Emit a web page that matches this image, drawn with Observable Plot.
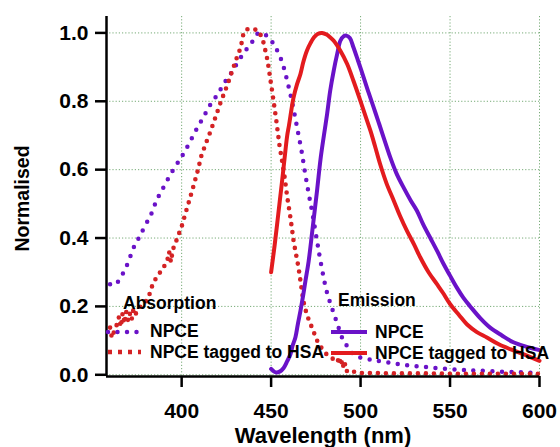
<!DOCTYPE html>
<html><head><meta charset="utf-8">
<script src="https://cdn.jsdelivr.net/npm/d3@7"></script>
<script src="https://cdn.jsdelivr.net/npm/@observablehq/plot@0.6"></script>
<style>body{margin:0;background:#fff}</style>
</head><body><div id="chart"></div>
<script>
// ---- Data ----
const xTicks = [400, 450, 500, 550, 600];
const yTicks = [0, 0.2, 0.4, 0.6, 0.8, 1.0];
const xDomain = [358, 600];
const yDomain = [-0.005, 1.048];

const legendGroups = ["Absorption", "Emission"];
const legendLabels = ["NPCE", "NPCE tagged to HSA"];

// Absorption, NPCE (dotted purple)
const absNpceX = [360,362,364,366,368,370,373,376,378,381,383,386,390,395,400,404,408,412,416,420,424,428,432,436,440,443,446,449,452,455,457,459,461,463,465,467,469,471,473,475.7,477.6,481,484,487,490,493,496,500,506,511,520,529,538,548,558,567,580,590,600];
const absNpceY = [0.265,0.262,0.27,0.285,0.305,0.327,0.37,0.40,0.42,0.45,0.47,0.51,0.55,0.597,0.638,0.675,0.715,0.752,0.79,0.82,0.855,0.885,0.92,0.95,0.978,1.0,0.997,0.985,0.962,0.93,0.90,0.86,0.815,0.765,0.71,0.655,0.59,0.53,0.475,0.39,0.333,0.245,0.195,0.149,0.105,0.08,0.06,0.05,0.044,0.04,0.032,0.026,0.022,0.017,0.014,0.012,0.009,0.007,0.005];

// Absorption, NPCE tagged to HSA (dotted red)
const absHsaX = [360,361,362.5,364,365,366,367,368,369,370,371,372,373,374,376,378,380,382,384,386,388,390,392,393,394,395,397.6,400.4,402,404,406.5,409,411,413.4,416,418,420,422,425.7,429,431,433,434.6,436,438.5,441,443,445,446,448,449.7,451.4,453,454.7,456,457.5,459,460.8,462.6,465.3,466.4,468,470,472,475.7,478,481,485,487,488,489,490,491,492,494,497,500,510,520,530,540,550,560,570,580,590,600];
const absHsaY = [0.138,0.108,0.13,0.15,0.17,0.14,0.18,0.15,0.185,0.16,0.18,0.16,0.19,0.175,0.195,0.205,0.215,0.235,0.268,0.285,0.30,0.315,0.335,0.36,0.33,0.365,0.40,0.44,0.47,0.505,0.55,0.597,0.64,0.675,0.71,0.74,0.77,0.80,0.85,0.90,0.93,0.957,1.0,1.01,1.012,1.01,1.006,0.985,0.967,0.92,0.86,0.80,0.74,0.67,0.63,0.58,0.52,0.46,0.39,0.314,0.275,0.216,0.175,0.149,0.10,0.08,0.06,0.045,0.05,0.03,0.05,0.02,0.04,0.01,0.015,0.007,0.005,0.005,0.004,0.004,0.004,0.003,0.003,0.003,0.003,0.003,0.003,0.003];

// Emission, NPCE (solid purple)
const emNpceX = [450,452.5,455,457,459,460.8,462,463.6,465,466.4,468,469.2,471,473,475.7,477.6,479.5,481.3,483,485,487,488.7,490.5,492,494,496,498.5,501.7,504.5,507.3,510,512.9,516.6,520,524,528,531.5,535,539,543,546.4,550,553.8,557.5,561.3,567,572.4,579,585.4,592,600];
const emNpceY = [0.017,0.007,0.01,0.02,0.04,0.06,0.085,0.11,0.15,0.187,0.235,0.275,0.333,0.42,0.54,0.63,0.70,0.763,0.83,0.89,0.94,0.977,0.99,0.992,0.985,0.958,0.92,0.87,0.825,0.782,0.74,0.694,0.636,0.59,0.548,0.51,0.48,0.44,0.40,0.36,0.324,0.29,0.255,0.225,0.20,0.165,0.138,0.115,0.095,0.083,0.072];

// Emission, NPCE tagged to HSA (solid red)
const emHsaX = [450,452,454,456,458,459,460,462.5,464.5,466.4,468,470,472,474,476,478.5,481,483,485,488.7,492.5,496,500,503,505.5,508,511,514.5,518.5,522,526,530,533.4,538,542.7,546,550,555,559.4,565,570.6,577,583.6,592,600];
const emHsaY = [0.30,0.38,0.47,0.56,0.656,0.70,0.73,0.81,0.85,0.88,0.915,0.948,0.97,0.987,0.997,1.0,0.995,0.987,0.977,0.948,0.909,0.86,0.80,0.753,0.714,0.67,0.615,0.56,0.51,0.465,0.42,0.38,0.343,0.30,0.265,0.24,0.207,0.175,0.148,0.125,0.109,0.09,0.075,0.058,0.041];

// ---- Styles ----
const PURPLE = "#6a12c8";
const RED = "#e31b1e";
const RED_DOT = "#d42224";
const GRID = "#5f9c5f";
const FONT = "'Liberation Sans', Arial, Helvetica, sans-serif";

const toRows = (xs, ys) => xs.map((x, i) => ({x, y: ys[i]}));
const absNpce = toRows(absNpceX, absNpceY);
const absHsa = toRows(absHsaX, absHsaY);
const emNpce = toRows(emNpceX, emNpceY);
const emHsa = toRows(emHsaX, emHsaY);

const dotPurple = {stroke: PURPLE, strokeWidth: 4.5, strokeDasharray: "0 9.5", strokeLinecap: "round"};
const dotRed = {stroke: RED_DOT, strokeWidth: 4.6, strokeDasharray: "0 8", strokeLinecap: "round"};
const solidPurple = {stroke: PURPLE, strokeWidth: 4};
const solidRed = {stroke: RED, strokeWidth: 4};

const chart = Plot.plot({
  width: 560, height: 447,
  marginLeft: 106, marginRight: 21, marginTop: 16, marginBottom: 71,
  style: {fontFamily: FONT, background: "white", color: "black"},
  x: {domain: xDomain},
  y: {domain: yDomain},
  marks: [
    Plot.gridX(xTicks, {stroke: GRID, strokeOpacity: 0.85, strokeDasharray: "1.2,2"}),
    Plot.gridY(yTicks, {stroke: GRID, strokeOpacity: 0.85, strokeDasharray: "1.2,2"}),
    Plot.line(absNpce, {x: "x", y: "y", curve: "catmull-rom", ...dotPurple}),
    Plot.line(absHsa, {x: "x", y: "y", curve: "linear", ...dotRed}),
    Plot.line(emNpce, {x: "x", y: "y", curve: "catmull-rom", ...solidPurple}),
    Plot.line(emHsa, {x: "x", y: "y", curve: "catmull-rom", ...solidRed}),
    Plot.ruleX([xDomain[0]], {stroke: "black", strokeWidth: 2.5}),
    Plot.ruleY([yDomain[0]], {stroke: "black", strokeWidth: 2.5}),
    Plot.axisX(xTicks, {tickSize: 11, tickPadding: 16, fontSize: 21, fontWeight: "bold", strokeWidth: 2.5, label: null}),
    Plot.axisY(yTicks, {tickSize: 11, tickPadding: 7, tickFormat: d3.format(".1f"), fontSize: 21, fontWeight: "bold", strokeWidth: 2.5, label: null}),
    Plot.text(["Normalised"], {text: d => d, frameAnchor: "left", dx: -84, dy: 2, rotate: -90, fontSize: 19.5, fontWeight: "bold", textAnchor: "middle", lineAnchor: "middle"}),
    Plot.text(["Wavelength (nm)"], {text: d => d, frameAnchor: "bottom", dy: 59, fontSize: 22, fontWeight: "bold", textAnchor: "middle", lineAnchor: "middle"})
  ]
});

// ---- In-plot legends ----
const svg = d3.select(chart);
const lg = svg.append("g").attr("font-family", FONT).attr("font-weight", "bold").attr("font-size", 17.5)
  .attr("fill", "black").attr("text-anchor", "start");
const legendDefs = [
  {title: legendGroups[0], tx: 123, ty: 309, lx0: 108, lx1: 141, textX: 150, rows: [{y: 332, base: 337, style: dotPurple}, {y: 352, base: 358, style: {...dotRed, strokeDasharray: "4 6", strokeLinecap: "butt"}}]},
  {title: legendGroups[1], tx: 338, ty: 306, lx0: 331, lx1: 367, textX: 375, rows: [{y: 332, base: 338, style: solidPurple}, {y: 353, base: 359, style: solidRed}]}
];
for (const g of legendDefs) {
  lg.append("text").attr("x", g.tx).attr("y", g.ty).attr("text-anchor", "start").text(g.title);
  g.rows.forEach((r, i) => {
    const ln = lg.append("line").attr("x1", g.lx0).attr("x2", g.lx1).attr("y1", r.y).attr("y2", r.y)
      .attr("stroke", r.style.stroke).attr("stroke-width", r.style.strokeWidth);
    if (r.style.strokeDasharray) ln.attr("stroke-dasharray", r.style.strokeDasharray);
    if (r.style.strokeLinecap) ln.attr("stroke-linecap", r.style.strokeLinecap);
    lg.append("text").attr("x", g.textX).attr("y", r.base).attr("text-anchor", "start").text(legendLabels[i]);
  });
}
svg.style("overflow", "visible");
document.getElementById("chart").appendChild(chart);
</script>
</body></html>
